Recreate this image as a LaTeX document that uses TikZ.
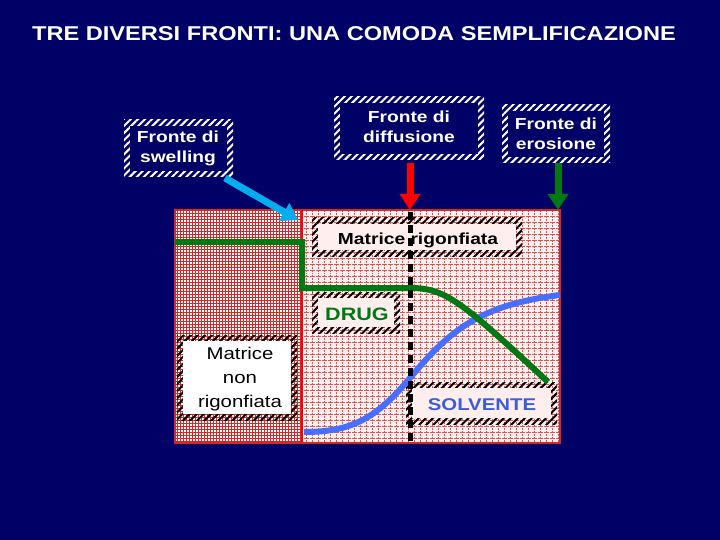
\documentclass[tikz,border=0pt]{standalone}
\usepackage{fontspec}
\setmainfont{Liberation Sans}
\usetikzlibrary{patterns.meta,arrows.meta}
\definecolor{navy}{RGB}{0,0,102}
\definecolor{pinkbg}{RGB}{255,238,238}
\definecolor{gridred}{RGB}{210,40,40}
\definecolor{dgreen}{RGB}{0,120,20}
\definecolor{lblue}{RGB}{70,110,255}
\tikzset{
  hatchw/.style={pattern={Lines[angle=45,distance=5pt,line width=2pt]},pattern color=white},
  hatchb/.style={pattern={Lines[angle=45,distance=5pt,line width=2pt]},pattern color=black},
  lbl/.style={font=\bfseries\fontsize{16}{20}\selectfont,align=center,xscale=1.2},
  fat/.style={-{Triangle[length=16pt,width=20pt]},line width=7pt}
}
\begin{document}
\begin{tikzpicture}[x=1pt,y=-1pt]
\fill[navy] (0,0) rectangle (720,540);
\useasboundingbox (0,0) rectangle (720,540);
\node[text=white,font=\bfseries\fontsize{20}{22}\selectfont,xscale=1.18] (title) at (354,34) {TRE DIVERSI FRONTI: UNA COMODA SEMPLIFICAZIONE};
% chart
\fill[pinkbg] (175,210) rectangle (560,443);
\fill[white] (175,210) rectangle (302,443);
\draw[gridred,line width=0.8pt] (175,210) grid[step=3pt] (302,443);
\draw[gridred!80,densely dotted,line width=0.5pt] (302,210) grid[step=6pt] (560,443);
\draw[gridred,line width=1.2pt] (175,210) rectangle (560,443);
\draw[red,line width=1.8pt] (302,210) -- (302,443);
% boxes in chart
\fill[hatchb] (312,218) rectangle (522,256);
\fill[pinkbg] (318,224) rectangle (516,250);
\node[lbl] (mr) at (418,240) {Matrice rigonfiata};
\fill[hatchb] (312,292) rectangle (400,333);
\fill[pinkbg] (318,298) rectangle (394,327);
\node[lbl,text=dgreen,font=\bfseries\fontsize{18}{22}\selectfont] (drug) at (357,314) {DRUG};
\fill[hatchb] (177,335) rectangle (297,420);
\fill[white] (183,341) rectangle (291,414);
\node[lbl,font=\fontsize{17}{24}\selectfont] (mnr) at (240,379) {Matrice\\non\\rigonfiata};
\fill[hatchb] (406,382) rectangle (557,424);
\fill[pinkbg] (412,388) rectangle (551,418);
\node[lbl,text=lblue!85!black,font=\bfseries\fontsize{17}{22}\selectfont] (solv) at (482,405) {SOLVENTE};
% curves
\draw[lblue,line width=6pt] (304,432) .. controls (350,432) and (375,420) .. (410,378) .. controls (450,330) and (480,305) .. (560,295);
\draw[dgreen,line width=6pt,line join=miter] (175,242) -- (302,242) -- (302,288) -- (410,288) .. controls (445,288) and (460,300) .. (548,382);
\draw[black,line width=5pt,dash pattern=on 8pt off 5pt] (410,212) -- (410,443);
% top boxes
\fill[hatchw] (124,120) rectangle (233,177);
\fill[navy] (130,126) rectangle (227,171);
\node[lbl,text=white] (sw) at (178,148) {Fronte di\\swelling};
\fill[hatchw] (334,97) rectangle (484,160);
\fill[navy] (340,103) rectangle (478,154);
\node[lbl,text=white] (df) at (409,127) {Fronte di\\diffusione};
\fill[hatchw] (502,105) rectangle (610,163);
\fill[navy] (508,111) rectangle (604,157);
\node[lbl,text=white] (er) at (556,134) {Fronte di\\erosione};
% arrows
\coordinate (swt) at (298,220);
\coordinate (dft) at (410,210);
\coordinate (ert) at (558,210);
\draw[fat,cyan] (225,178) -- (swt);
\draw[fat,red] (410,163) -- (dft);
\draw[fat,dgreen] (558,163) -- (ert);
\end{tikzpicture}
\end{document}
